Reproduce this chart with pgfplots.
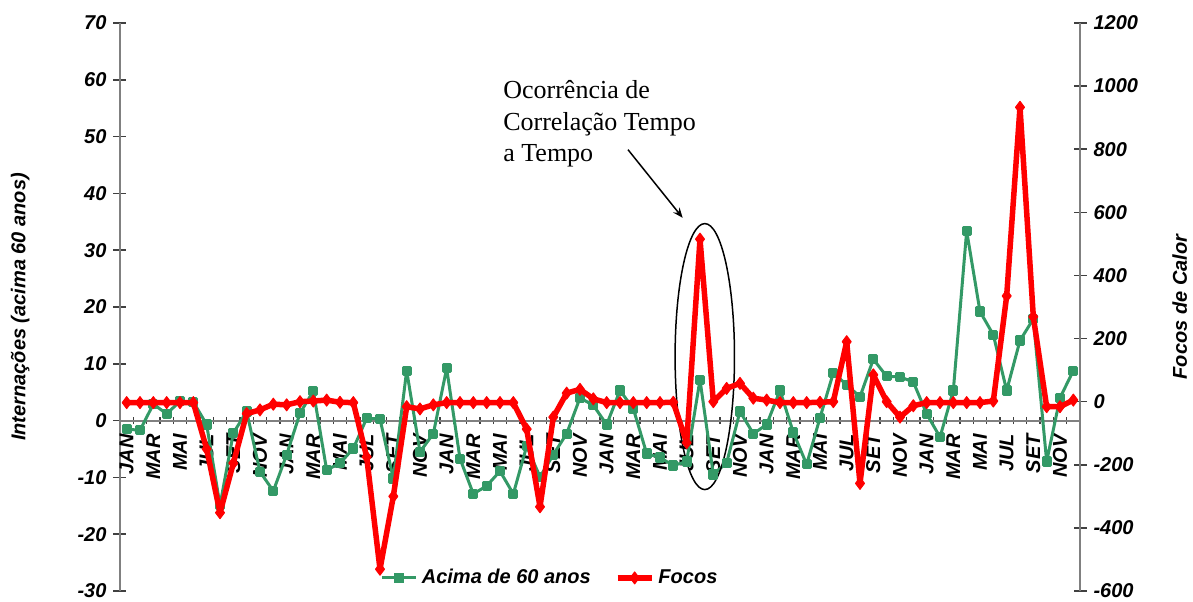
\documentclass[border=0pt]{standalone}
\usepackage{fontspec}
\setmainfont{Liberation Sans}
\newfontfamily\timesfont{Liberation Serif}
\usepackage{pgfplots}
\usetikzlibrary{arrows.meta}
\pgfplotsset{compat=1.18}
\definecolor{sgreen}{RGB}{51,153,102}
\definecolor{axgray}{RGB}{128,128,128}
\newcommand{\bifont}{\bfseries\itshape\fontsize{10}{12}\selectfont}

\pgfplotstableread{
i g
0 -1.5
1 -1.7
2 2.9
3 1.2
4 3.4
5 3.3
6 -0.7
7 -14.9
8 -2.2
9 1.6
10 -9.0
11 -12.4
12 -6.0
13 1.3
14 5.2
15 -8.7
16 -7.5
17 -4.9
18 0.4
19 0.3
20 -10.2
21 8.8
22 -5.5
23 -2.3
24 9.2
25 -6.7
26 -12.9
27 -11.5
28 -8.9
29 -12.9
30 -4.5
31 -9.9
32 -6.0
33 -2.3
34 4.0
35 2.7
36 -0.7
37 5.3
38 2.1
39 -5.8
40 -6.5
41 -7.9
42 -7.2
43 7.2
44 -9.5
45 -7.4
46 1.6
47 -2.3
48 -0.7
49 5.3
50 -2.1
51 -7.7
52 0.5
53 8.4
54 6.3
55 4.2
56 10.8
57 7.8
58 7.7
59 6.8
60 1.2
61 -2.9
62 5.3
63 33.4
64 19.2
65 15.1
66 5.3
67 14.1
68 17.9
69 -7.2
70 4.0
71 8.8
}\greentable

\pgfplotstableread{
i f
0 -3
1 -3
2 -3
3 -3
4 -3
5 -3
6 -150
7 -352
8 -195
9 -38
10 -26
11 -8
12 -10
13 0
14 2
15 5
16 -2
17 -3
18 -175
19 -531
20 -300
21 -16
22 -23
23 -10
24 -3
25 -3
26 -3
27 -3
28 -3
29 -3
30 -87
31 -333
32 -49
33 27
34 39
35 9
36 -3
37 -3
38 -3
39 -3
40 -3
41 -2
42 -130
43 515
44 0
45 42
46 58
47 11
48 5
49 -3
50 -3
51 -3
52 -2
53 0
54 190
55 -259
56 85
57 0
58 -49
59 -13
60 -3
61 -3
62 -3
63 -3
64 -3
65 2
66 335
67 933
68 269
69 -16
70 -16
71 5
}\redtable

\begin{document}
\begin{tikzpicture}
\useasboundingbox (-60pt,-5pt) rectangle (536.5pt,295.5pt);
\begin{axis}[
  at={(0,0)}, anchor=south west,
  scale only axis, width=480pt, height=284pt,
  clip=false,
  xmin=-0.5, xmax=71.5, ymin=-30, ymax=70,
  axis x line=middle, axis y line=left,
  hide obscured x ticks=false, hide obscured y ticks=false,
  axis line style={-, draw=axgray, line width=1pt},
  xtick={0,2,...,70},
  xticklabels={JAN,MAR,MAI,JUL,SET,NOV,JAN,MAR,MAI,JUL,SET,NOV,JAN,MAR,MAI,JUL,SET,NOV,JAN,MAR,MAI,JUL,SET,NOV,JAN,MAR,MAI,JUL,SET,NOV,JAN,MAR,MAI,JUL,SET,NOV},
  major x tick style={draw=none},
  minor xtick={-0.5,0.5,...,71.5},
  minor x tick style={draw=black!75, line width=0.7pt},
  minor tick length=3.5pt,
  major tick length=6.5pt,
  tick align=center,
  y tick style={draw=black!75, line width=0.8pt},
  ytick={-30,-20,-10,0,10,20,30,40,50,60,70},
  yticklabels={-30,-20,-10,0,10,20,30,40,50,60,70},
  yticklabel style={font=\bifont},
  xticklabel style={rotate=90, anchor=east, font=\bifont},
  every axis y label/.style={at={(axis description cs:-0.104,0.5)}, anchor=center, rotate=90, font=\bifont},
  ylabel={Internações (acima 60 anos)},
]
\addplot[sgreen, line width=1.5pt, line join=round, mark=square*, mark size=1.8pt, mark options={solid}] table[x=i, y=g] {\greentable};
\draw[black, line width=0.75pt] (axis cs:43.36,11.27) ellipse [x radius=14.85pt, y radius=66.5pt];
\draw[black, line width=0.75pt, -{Stealth[length=5pt,width=4pt]}] (axis cs:37.6,47.7) -- (axis cs:41.7,35.7);
\node[anchor=north west, align=left, inner sep=0pt, font=\timesfont\fontsize{13}{15.75}\selectfont] at (axis cs:28.22,59.9) {Ocorrência de\\Correlação Tempo\\a Tempo};
\end{axis}
\begin{axis}[
  at={(0,0)}, anchor=south west,
  scale only axis, width=480pt, height=284pt,
  clip=false,
  xmin=-0.5, xmax=71.5, ymin=-600, ymax=1200,
  axis y line*=right, axis x line=none,
  axis line style={-, draw=axgray, line width=1pt},
  major tick length=6.5pt, tick align=center,
  y tick style={draw=black!75, line width=0.8pt},
  ytick={-600,-400,-200,0,200,400,600,800,1000,1200},
  yticklabels={-600,-400,-200,0,200,400,600,800,1000,1200},
  yticklabel style={font=\bifont},
  every axis y label/.style={at={(axis description cs:1.104,0.5)}, anchor=center, rotate=90, font=\bifont},
  ylabel={Focos de Calor},
  legend style={at={(axis description cs:0.449,0.023)}, anchor=center, draw=none, fill=none, font=\bifont, /tikz/every even column/.append style={column sep=10pt}},
  legend columns=2,
]
\addlegendimage{sgreen, line width=1.5pt, mark=square*, mark size=1.8pt}
\addlegendentry{Acima de 60 anos}
\addplot[red, line width=2.75pt, line join=round, mark=diamond*, mark size=3pt, mark options={solid, line width=0.5pt}] table[x=i, y=f] {\redtable};
\addlegendentry{Focos}
\end{axis}
\end{tikzpicture}
\end{document}
